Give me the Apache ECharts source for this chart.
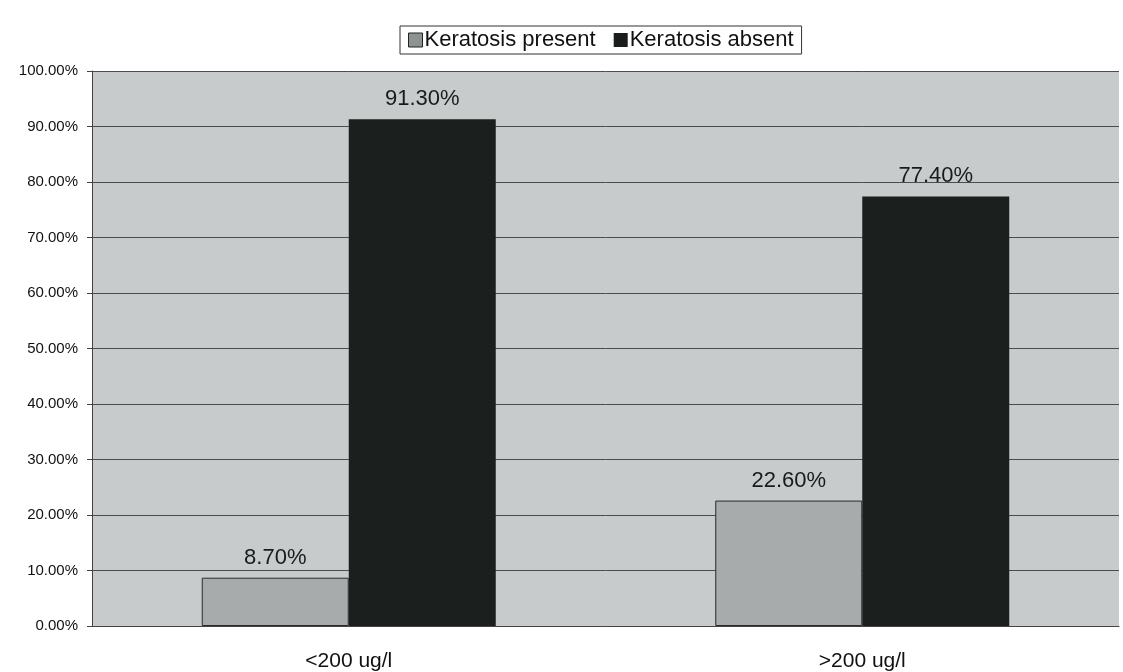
<!DOCTYPE html>
<html>
<head>
<meta charset="utf-8">
<style>
  html, body { margin: 0; padding: 0; background: #ffffff; }
  #chart { width: 1123px; height: 672px; }
</style>
<script src="https://cdn.jsdelivr.net/npm/echarts@6/dist/echarts.min.js"></script>
</head>
<body>
<div id="chart"></div>
<script>
// Arsenic concentration groups and share of patients with / without keratosis (%)
const categories = ['<200 ug/l', '>200 ug/l'];
const keratosisPresent = [8.7, 22.6];
const keratosisAbsent = [91.3, 77.4];
const yTicks = { min: 0, max: 100, interval: 10 };

const chart = echarts.init(document.getElementById('chart'));
const font = '"Liberation Sans", Arial, sans-serif';
const pct = v => v.toFixed(2) + '%';

chart.setOption({
  animation: false,
  backgroundColor: '#ffffff',
  textStyle: { fontFamily: font },
  legend: {
    top: 26,
    left: 400,
    itemWidth: 14,
    itemHeight: 14,
    itemGap: 18,
    padding: [3, 8, 3, 8],
    borderColor: '#333',
    borderWidth: 1,
    backgroundColor: '#ffffff',
    textStyle: { fontSize: 22, color: '#111', fontFamily: font, padding: [0, 0, 0, -3] },
    data: [
      { name: 'Keratosis present', icon: 'rect', itemStyle: { color: '#8f9292', borderColor: '#222', borderWidth: 1 } },
      { name: 'Keratosis absent', icon: 'rect', itemStyle: { color: '#1b1d1c' } }
    ]
  },
  grid: {
    left: 92,
    right: 4,
    top: 71,
    bottom: 46,
    show: true,
    backgroundColor: '#c7cbcb',
    borderWidth: 0
  },
  xAxis: {
    type: 'category',
    data: categories,
    axisLine: { show: true, lineStyle: { color: '#444', width: 1 } },
    axisTick: { show: false },
    axisLabel: { fontSize: 21, color: '#111', margin: 25, fontFamily: font }
  },
  yAxis: {
    type: 'value',
    min: yTicks.min,
    max: yTicks.max,
    interval: yTicks.interval,
    axisLine: { show: true, lineStyle: { color: '#444', width: 1 } },
    axisTick: { show: true, length: 5, inside: false, lineStyle: { color: '#444' } },
    splitLine: { show: true, lineStyle: { color: '#4a4d4d', width: 1 } },
    axisLabel: {
      fontSize: 15,
      color: '#111',
      margin: 14,
      fontFamily: font,
      formatter: pct
    }
  },
  series: [
    {
      name: 'Keratosis present',
      type: 'bar',
      data: keratosisPresent,
      barWidth: 147,
      barGap: '0%',
      itemStyle: { color: '#a8abab', borderColor: '#2a2a2a', borderWidth: 1 },
      label: {
        show: true,
        position: 'top',
        distance: 9,
        fontSize: 22,
        color: '#1a1a1a',
        fontFamily: font,
        formatter: p => pct(p.value)
      }
    },
    {
      name: 'Keratosis absent',
      type: 'bar',
      data: keratosisAbsent,
      barWidth: 147,
      barGap: '0%',
      itemStyle: { color: '#1b1f1d' },
      label: {
        show: true,
        position: 'top',
        distance: 9,
        fontSize: 22,
        color: '#1a1a1a',
        fontFamily: font,
        formatter: p => pct(p.value)
      }
    }
  ]
});
</script>
</body>
</html>
